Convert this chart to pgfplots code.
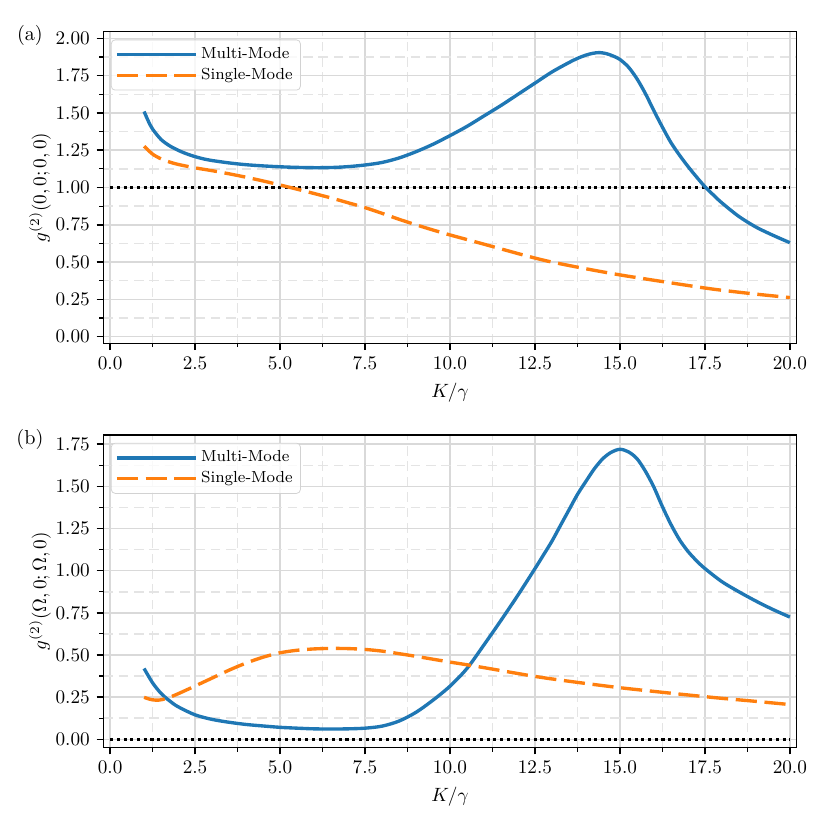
\documentclass[border=0pt]{standalone}
\usepackage{pgfplots}
\pgfplotsset{compat=1.18}
\definecolor{mplblue}{HTML}{1F77B4}
\definecolor{mplorange}{HTML}{FF7F0E}
\definecolor{gridmaj}{HTML}{D9D9D9}
\definecolor{gridmin}{HTML}{E4E4E4}
\pgfplotsset{
  mystyle/.style={
    scale only axis,
    width=360.9pt,
    xmin=-0.2, xmax=20.2,
    xtick={0,2.5,5,7.5,10,12.5,15,17.5,20},
    minor x tick num=1,
    minor y tick num=1,
    tick pos=left,
    tick align=outside,
    major tick length=3.5pt,
    minor tick length=2pt,
    every major tick/.append style={line width=0.8pt, black},
    every minor tick/.append style={line width=0.6pt, black},
    axis line style={line width=0.8pt},
    grid=both,
    major grid style={gridmaj, line width=0.8pt},
    minor grid style={gridmin, line width=0.8pt, dash pattern=on 5pt off 3pt},
    xticklabel style={/pgf/number format/.cd, fixed, fixed zerofill, precision=1},
    yticklabel style={/pgf/number format/.cd, fixed, fixed zerofill, precision=2},
    ticklabel style={font=\fontsize{10}{12}\selectfont},
    label style={font=\fontsize{10}{12}\selectfont},
    xlabel={$K/\gamma$},
    x label style={at={(axis description cs:0.5,-0.157)}, anchor=center},
    y label style={at={(axis description cs:-0.0914,0.5)}, anchor=center},
    legend cell align=left,
    legend style={at={(0.011,0.975)}, anchor=north west, draw=gray!35, rounded corners=2pt,
      fill=white, fill opacity=0.8, text opacity=1, font=\fontsize{8.33}{10}\selectfont,
      inner xsep=2pt, inner ysep=2pt, row sep=-0.5pt},
    legend image code/.code={\draw[##1] (0pt,0pt) -- (41pt,0pt);},
  },
  mblue/.style={mplblue, line width=1.75pt, no marks, smooth, line join=round},
  morange/.style={mplorange, line width=1.75pt, no marks, smooth, dash pattern=on 11pt off 4pt},
  mdot/.style={black, line width=1.6pt, no marks, dash pattern=on 1.6pt off 1.9pt, forget plot},
}
\begin{document}
\begin{tikzpicture}
\begin{axis}[mystyle, name=top, at={(0,0)}, anchor=north west,
  height=162.2pt, ymin=-0.045, ymax=2.045,
  ytick={0,0.25,0.5,0.75,1,1.25,1.5,1.75,2},
  ylabel={$g^{(2)}(0,0;0,0)$}]
\addplot[mdot] coordinates {(0,1) (20,1)};
\addplot[mblue] coordinates {
(1.0,1.510) (1.125,1.445) (1.25,1.392) (1.5,1.322) (1.75,1.280) (2.0,1.250) (2.25,1.226)
(2.5,1.207) (2.75,1.192) (3.0,1.181) (3.5,1.165) (4.0,1.153) (4.5,1.145) (5.0,1.139)
(5.5,1.135) (6.0,1.133) (6.5,1.134) (7.0,1.140) (7.5,1.151) (8.0,1.168) (8.5,1.198)
(9.0,1.240) (9.5,1.290) (10.0,1.348) (10.5,1.41) (11.0,1.48) (11.5,1.55) (12.0,1.625)
(12.5,1.700) (13.0,1.775) (13.5,1.838) (13.75,1.866) (14.0,1.888) (14.2,1.900) (14.4,1.905)
(14.6,1.898) (14.8,1.882) (15.0,1.859) (15.25,1.808) (15.5,1.730) (15.75,1.630) (16.0,1.515)
(16.25,1.405) (16.5,1.302) (16.75,1.218) (17.0,1.142) (17.25,1.072) (17.5,1.006)
(17.75,0.950) (18.0,0.897) (18.5,0.806) (19.0,0.735) (19.5,0.680) (20.0,0.630)};
\addlegendentry{Multi-Mode}
\addplot[morange] coordinates {
(1.0,1.277) (1.25,1.224) (1.5,1.192) (1.75,1.171) (2.0,1.155) (2.5,1.132) (3.0,1.113)
(3.5,1.092) (4.0,1.069) (4.5,1.044) (5.0,1.017) (5.5,0.989) (6.0,0.96) (6.5,0.930)
(7.0,0.898) (7.5,0.865) (8.0,0.827) (8.5,0.787) (9.0,0.750) (9.5,0.715) (10.0,0.682)
(11.0,0.62) (12.0,0.557) (12.5,0.527) (13.0,0.50) (14.0,0.455) (15.0,0.414) (16.0,0.378)
(17.0,0.343) (17.5,0.326) (18.0,0.311) (19.0,0.285) (20.0,0.262)};
\addlegendentry{Single-Mode}
\end{axis}
\begin{axis}[mystyle, name=bot, at={(0,-209.9pt)}, anchor=north west,
  height=162.8pt, ymin=-0.05, ymax=1.805,
  ytick={0,0.25,0.5,0.75,1,1.25,1.5,1.75},
  ylabel={$g^{(2)}(\Omega,0;\Omega,0)$}]
\addplot[mdot] coordinates {(0,0) (20,0)};
\addplot[mblue] coordinates {
(1.0,0.42) (1.25,0.335) (1.5,0.272) (1.75,0.228) (2.0,0.193) (2.5,0.145) (3.0,0.118)
(3.5,0.101) (4.0,0.088) (4.5,0.079) (5.0,0.071) (5.5,0.066) (6.0,0.062) (6.5,0.061)
(7.0,0.062) (7.5,0.066) (8.0,0.078) (8.5,0.108) (9.0,0.160) (9.5,0.232) (10.0,0.315)
(10.5,0.42) (11.0,0.56) (11.5,0.705) (12.0,0.855) (12.5,1.012) (12.75,1.093) (13.0,1.175)
(13.25,1.268) (13.5,1.360) (13.75,1.452) (14.0,1.530) (14.25,1.605) (14.5,1.665)
(14.75,1.703) (15.0,1.720) (15.25,1.705)
(15.5,1.665) (15.75,1.590) (16.0,1.495) (16.25,1.380) (16.5,1.275) (16.75,1.185)
(17.0,1.115) (17.25,1.060) (17.5,1.013) (18.0,0.935) (18.5,0.875) (19.0,0.82)
(19.5,0.77) (20.0,0.725)};
\addlegendentry{Multi-Mode}
\addplot[morange] coordinates {
(1.0,0.249) (1.2,0.236) (1.42,0.232) (1.67,0.243) (2.0,0.27) (2.5,0.316) (3.0,0.363)
(3.5,0.41) (4.0,0.452) (4.5,0.487) (5.0,0.513) (5.5,0.528) (6.0,0.536) (6.5,0.539)
(7.0,0.538) (7.5,0.533) (8.0,0.523) (8.5,0.508) (9.0,0.492) (9.5,0.475) (10.0,0.458)
(10.5,0.442) (11.0,0.425) (12.0,0.39) (12.5,0.373) (13.0,0.358) (14.0,0.331) (15.0,0.306)
(16.0,0.284) (17.0,0.263) (17.5,0.253) (18.0,0.243) (19.0,0.225) (20.0,0.206)};
\addlegendentry{Single-Mode}
\end{axis}
\node[font=\fontsize{10.5}{12}\selectfont] at ([xshift=-38.2pt,yshift=-2.2pt]top.north west) {(a)};
\node[font=\fontsize{10.5}{12}\selectfont] at ([xshift=-38.2pt,yshift=-2.2pt]bot.north west) {(b)};
\path (-53.77pt,16.5pt) rectangle (378.26pt,-415.5pt);
\end{tikzpicture}
\end{document}
